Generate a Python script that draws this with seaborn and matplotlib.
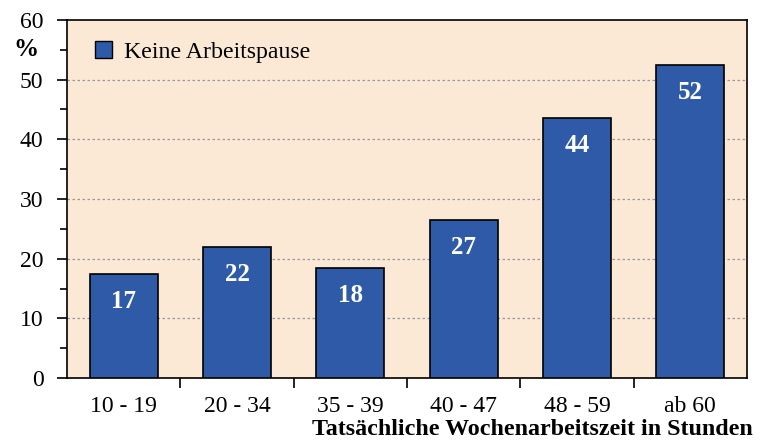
import matplotlib
matplotlib.use('Agg')

import seaborn as sns
import matplotlib.pyplot as plt
import pandas
from matplotlib.ticker import MultipleLocator
from matplotlib.patches import Patch

categories = ['10 - 19', '20 - 34', '35 - 39', '40 - 47', '48 - 59', 'ab 60']
values = [17.5, 21.9, 18.4, 26.5, 43.6, 52.4]
bar_labels = ['17', '22', '18', '27', '44', '52']
series_name = 'Keine Arbeitspause'
x_label = 'Tatsächliche Wochenarbeitszeit in Stunden'
y_unit = '%'

BAR_COLOR = '#2E5AA7'
BG_COLOR = '#FBE9D6'

data = pandas.DataFrame({'group': categories, 'value': values})

sns.set_theme(style='ticks')
plt.rcParams['font.family'] = ['Liberation Serif', 'DejaVu Serif']
plt.rcParams['text.color'] = 'black'
plt.rcParams['xtick.color'] = 'black'
plt.rcParams['ytick.color'] = 'black'
plt.rcParams['axes.labelcolor'] = 'black'

fig = plt.figure(figsize=(7.64, 4.41), dpi=100)
ax = fig.add_axes([67 / 764, 63 / 441, 680 / 764, 358 / 441])
ax.set_facecolor(BG_COLOR)

g = sns.barplot(data=data, x='group', y='value', color=BAR_COLOR, saturation=1,
                edgecolor='black', linewidth=1.2, width=0.6, ax=ax, zorder=3)

for i, (v, lab) in enumerate(zip(values, bar_labels)):
    ax.text(i, v - 4.6, lab, ha='center', va='center', color='white',
            fontsize=18, fontweight='bold', zorder=4)

ax.set_ylim(0, 60)
ax.set_xlim(-0.5, len(categories) - 0.5)
ax.yaxis.set_major_locator(MultipleLocator(10))
ax.yaxis.set_minor_locator(MultipleLocator(5))
ax.set_xticks([i + 0.5 for i in range(len(categories) - 1)], minor=False)
ax.set_xticklabels([])
ax.set_xticks(range(len(categories)), minor=True)
ax.set_xticklabels(categories, minor=True)
ax.tick_params(axis='x', which='minor', length=0, labelsize=17, pad=13)
ax.tick_params(axis='x', which='major', length=7, width=1.2, color='black')
ax.tick_params(axis='y', which='major', length=7, width=1.2, labelsize=17, pad=10)
ax.tick_params(axis='y', which='minor', length=5, width=1.2)

for y in range(10, 60, 10):
    ax.axhline(y, color='#999999', linestyle=(0, (2, 2)), linewidth=0.9, zorder=1)

for s in ax.spines.values():
    s.set_color('black')
    s.set_linewidth(1.2)

ax.set_ylabel('')
ax.set_xlabel(x_label, fontsize=17.3, fontweight='bold')
ax.xaxis.set_label_coords(1.008, -0.145)
ax.xaxis.label.set_horizontalalignment('right')
ax.xaxis.label.set_verticalalignment('center')

fig.text(26 / 764, 1 - 50 / 441, y_unit, fontsize=18, fontweight='bold',
         ha='center', va='center')

handle = Patch(facecolor=BAR_COLOR, edgecolor='black', linewidth=1)
ax.legend([handle], [series_name], loc='upper left', frameon=False, fontsize=17.2,
          handlelength=0.7, handleheight=0.7, handletextpad=0.5,
          bbox_to_anchor=(0.01, 1.0))

fig.savefig('out.png', dpi=100, facecolor='white')
